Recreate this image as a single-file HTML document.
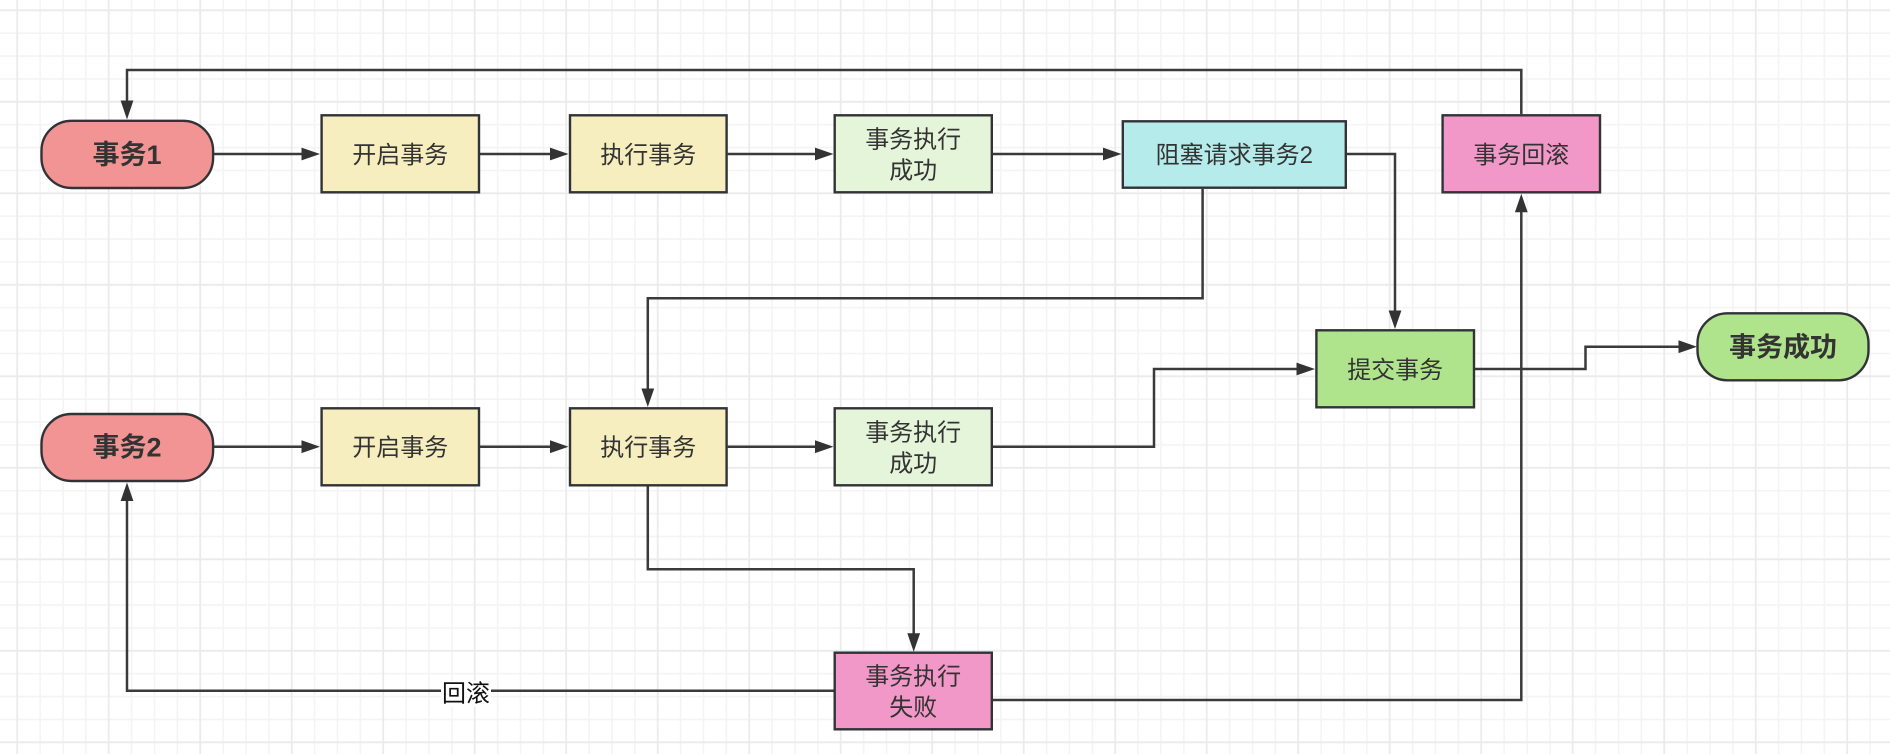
<!DOCTYPE html>
<html lang="zh">
<head>
<meta charset="utf-8">
<title>事务流程</title>
<style>
html,body{margin:0;padding:0;width:1890px;height:754px;background:#fff;overflow:hidden}
svg{display:block}
text{font-family:"Liberation Sans","Noto Sans CJK SC",sans-serif;font-size:24px;fill:#333;text-anchor:middle;dominant-baseline:central}
.b{font-weight:700;font-size:27px}
.n{stroke:#323337;stroke-width:2.4}
.c{fill:none;stroke:#3a3a3a;stroke-width:2.5}
.a{fill:#333}
</style>
</head>
<body>
<svg xmlns="http://www.w3.org/2000/svg" width="1890" height="754" viewBox="0 0 1890 754">
<rect width="1890" height="754" fill="#fff"/>
<g stroke="#f4f4f4" stroke-width="1.6">
<path d="M40.1 0V754M63 0V754M85.8 0V754M131.6 0V754M154.5 0V754M177.4 0V754M223.1 0V754M246 0V754M268.9 0V754M314.6 0V754M337.5 0V754M360.4 0V754M406.1 0V754M429 0V754M451.9 0V754M497.6 0V754M520.5 0V754M543.4 0V754M589.1 0V754M612 0V754M634.9 0V754M680.6 0V754M703.5 0V754M726.4 0V754M772.1 0V754M795 0V754M817.9 0V754M863.6 0V754M886.5 0V754M909.4 0V754M955.1 0V754M978 0V754M1000.9 0V754M1046.6 0V754M1069.5 0V754M1092.4 0V754M1138.1 0V754M1161 0V754M1183.9 0V754M1229.6 0V754M1252.5 0V754M1275.4 0V754M1321.1 0V754M1344 0V754M1366.9 0V754M1412.6 0V754M1435.5 0V754M1458.4 0V754M1504.1 0V754M1527 0V754M1549.9 0V754M1595.6 0V754M1618.5 0V754M1641.4 0V754M1687.1 0V754M1710 0V754M1732.9 0V754M1778.6 0V754M1801.5 0V754M1824.4 0V754M1870.1 0V754"/>
<path d="M0 33.2H1890M0 56.1H1890M0 79H1890M0 124.7H1890M0 147.6H1890M0 170.5H1890M0 216.2H1890M0 239.1H1890M0 262H1890M0 307.7H1890M0 330.6H1890M0 353.5H1890M0 399.2H1890M0 422.1H1890M0 445H1890M0 490.7H1890M0 513.6H1890M0 536.5H1890M0 582.2H1890M0 605.1H1890M0 628H1890M0 673.7H1890M0 696.6H1890M0 719.5H1890"/>
</g>
<g stroke="#ebebeb" stroke-width="1.8">
<path d="M17.2 0V754M108.7 0V754M200.2 0V754M291.7 0V754M383.2 0V754M474.7 0V754M566.2 0V754M657.7 0V754M749.2 0V754M840.7 0V754M932.2 0V754M1023.7 0V754M1115.2 0V754M1206.7 0V754M1298.2 0V754M1389.7 0V754M1481.2 0V754M1572.7 0V754M1664.2 0V754M1755.7 0V754M1847.2 0V754"/>
<path d="M0 10.3H1890M0 101.8H1890M0 193.3H1890M0 284.8H1890M0 376.3H1890M0 467.8H1890M0 559.3H1890M0 650.8H1890M0 742.3H1890"/>
</g>

<!-- connectors -->
<path class="c" d="M1521.3 114V70H127V102"/>
<path class="a" d="M127 119.5L120.6 100.5H133.4Z"/>
<path class="c" d="M214 154H303"/><path class="a" d="M320 154L301.5 147.6V160.4Z"/>
<path class="c" d="M480 154H552"/><path class="a" d="M568.5 154L550 147.6V160.4Z"/>
<path class="c" d="M727.6 154H816"/><path class="a" d="M833.5 154L815 147.6V160.4Z"/>
<path class="c" d="M992.8 154H1104"/><path class="a" d="M1121.5 154L1103 147.6V160.4Z"/>
<path class="c" d="M1346.8 154H1395V312"/><path class="a" d="M1395 329L1388.6 310.5H1401.4Z"/>
<path class="c" d="M1202.6 188.7V298.3H647.8V390"/><path class="a" d="M647.8 407L641.4 388.5H654.2Z"/>
<path class="c" d="M214 446.7H303"/><path class="a" d="M320 446.7L301.5 440.3V453.1Z"/>
<path class="c" d="M480 446.7H552"/><path class="a" d="M568.5 446.7L550 440.3V453.1Z"/>
<path class="c" d="M727.6 446.7H816"/><path class="a" d="M833.5 446.7L815 440.3V453.1Z"/>
<path class="c" d="M992.8 446.7H1154V369H1298"/><path class="a" d="M1315 369L1296.5 362.6V375.4Z"/>
<path class="c" d="M1475 369H1585.5V346.7H1680"/><path class="a" d="M1697 346.7L1678.5 340.3V353.1Z"/>
<path class="c" d="M647.8 486.3V569.3H913.7V635"/><path class="a" d="M913.7 651.7L907.3 633.2H920.1Z"/>
<path class="c" d="M833.7 690.7H127V500"/><path class="a" d="M127 482.5L120.6 501H133.4Z"/>
<path class="c" d="M992.8 700H1521.3V211"/><path class="a" d="M1521.3 193.8L1514.9 212.3H1527.7Z"/>

<!-- edge label -->
<rect x="441" y="681" width="50" height="26" fill="#fff"/>
<text x="466" y="694" style="fill:#111">回滚</text>

<!-- nodes -->
<rect class="n" x="41.5" y="120.8" width="171.6" height="67.2" rx="30" ry="30" fill="#F29494"/>
<text class="b" x="127" y="155">事务1</text>
<rect class="n" x="321.6" y="115.3" width="157.4" height="77" fill="#F6EEBF"/>
<text x="400.3" y="155.5">开启事务</text>
<rect class="n" x="570" y="115.3" width="156.6" height="77" fill="#F6EEBF"/>
<text x="648.3" y="155.5">执行事务</text>
<rect class="n" x="834.7" y="115.3" width="157.1" height="77" fill="#E5F5DA"/>
<text x="913.2" y="140">事务执行</text>
<text x="913.2" y="171">成功</text>
<rect class="n" x="1122.8" y="121.3" width="223" height="66.4" fill="#B5EBEB"/>
<text x="1234.3" y="155.5">阻塞请求事务2</text>
<rect class="n" x="1442.6" y="115.3" width="157.4" height="77" fill="#F298C8"/>
<text x="1521.3" y="155.5">事务回滚</text>
<rect class="n" x="1316.4" y="330.3" width="157.6" height="77" fill="#AFE48D"/>
<text x="1395.2" y="370.5">提交事务</text>
<rect class="n" x="1697.5" y="313.3" width="171" height="67" rx="30" ry="30" fill="#AFE48D"/>
<text class="b" x="1783" y="347.7">事务成功</text>
<rect class="n" x="41.5" y="414" width="171.6" height="67" rx="30" ry="30" fill="#F29494"/>
<text class="b" x="127" y="447.7">事务2</text>
<rect class="n" x="321.6" y="408.3" width="157.4" height="77" fill="#F6EEBF"/>
<text x="400.3" y="448.2">开启事务</text>
<rect class="n" x="570" y="408.3" width="156.6" height="77" fill="#F6EEBF"/>
<text x="648.3" y="448.2">执行事务</text>
<rect class="n" x="834.7" y="408.3" width="157.1" height="77" fill="#E5F5DA"/>
<text x="913.2" y="433">事务执行</text>
<text x="913.2" y="464">成功</text>
<rect class="n" x="834.7" y="652.7" width="157.1" height="76.6" fill="#F298C8"/>
<text x="913.2" y="677">事务执行</text>
<text x="913.2" y="708">失败</text>
</svg>
</body>
</html>
